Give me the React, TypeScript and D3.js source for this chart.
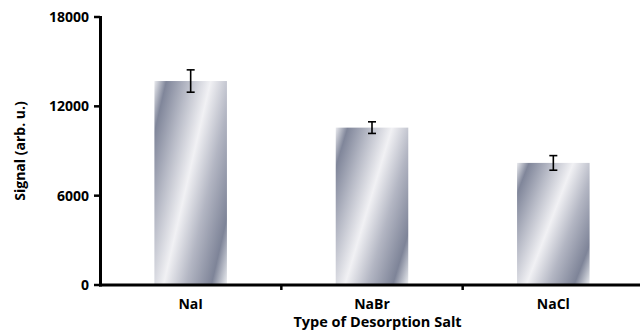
import React from "react";
import * as d3 from "d3";

const categories = ["NaI", "NaBr", "NaCl"];
const values = [13700, 10570, 8200];
const errors = [750, 390, 490];
const yTicks = [0, 6000, 12000, 18000];

const W = 640;
const H = 331;
const FONT = "'Open Sans', sans-serif";

export default function App() {
  const x = d3.scaleBand<string>().domain(categories).range([100, 644]).padding(0);
  const y = d3.scaleLinear().domain([0, 18000]).range([285, 17]);
  const bw = x.bandwidth() * 0.4;

  const a = 0.65;
  const s = (1 + a) / (1 + a * a);
  const stops: [number, string][] = [
    [0, "#e9eaee"],
    [0.1, "#80869a"],
    [0.28, "#b8bbc7"],
    [0.47, "#f1f1f4"],
    [0.66, "#b3b6c3"],
    [0.87, "#7e8498"],
    [1, "#eceef1"],
  ];

  return (
    <svg width={W} height={H} style={{ position: "absolute", left: 0, top: 0, background: "#fff" }}>
      <defs>
        <linearGradient id="chrome" x1={0} y1={0} x2={s} y2={s * a} gradientUnits="objectBoundingBox">
          {stops.map(([o, c], i) => (
            <stop key={i} offset={o} stopColor={c} />
          ))}
        </linearGradient>
      </defs>
      <rect width={W} height={H} fill="#fff" />
      {categories.map((c, i) => {
        const cx = (x(c) as number) + x.bandwidth() / 2;
        return (
          <g key={c}>
            <rect x={cx - bw / 2} y={y(values[i])} width={bw} height={y(0) - y(values[i])} fill="url(#chrome)" />
            <line x1={cx} x2={cx} y1={y(values[i] + errors[i])} y2={y(values[i] - errors[i])} stroke="#000" strokeWidth={1.6} />
            <line x1={cx - 4} x2={cx + 4} y1={y(values[i] + errors[i])} y2={y(values[i] + errors[i])} stroke="#000" strokeWidth={1.6} />
            <line x1={cx - 4} x2={cx + 4} y1={y(values[i] - errors[i])} y2={y(values[i] - errors[i])} stroke="#000" strokeWidth={1.6} />
          </g>
        );
      })}
      {/* y axis */}
      <line x1={100.5} x2={100.5} y1={y(18000) - 1} y2={y(0) + 1.5} stroke="#000" strokeWidth={3} />
      {yTicks.map((t) => (
        <g key={t}>
          <line x1={94} x2={100} y1={y(t)} y2={y(t)} stroke="#000" strokeWidth={2.5} />
          <text x={89} y={y(t)} dy="0.36em" textAnchor="end" fontFamily={FONT} fontWeight={700} fontSize={14} fill="#000">
            {t}
          </text>
        </g>
      ))}
      {/* x axis */}
      <line x1={99} x2={644} y1={y(0)} y2={y(0)} stroke="#000" strokeWidth={3} />
      {categories.slice(1).map((c) => (
        <line key={c} x1={x(c) as number} x2={x(c) as number} y1={y(0)} y2={y(0) + 5} stroke="#000" strokeWidth={2.5} />
      ))}
      {categories.map((c) => (
        <text key={c} x={(x(c) as number) + x.bandwidth() / 2} y={309} textAnchor="middle" fontFamily={FONT} fontWeight={700} fontSize={14} fill="#000">
          {c}
        </text>
      ))}
      <text x={377.5} y={327} textAnchor="middle" fontFamily={FONT} fontWeight={700} fontSize={14.5} fill="#000">
        Type of Desorption Salt
      </text>
      <text transform={`translate(25,151) rotate(-90)`} textAnchor="middle" fontFamily={FONT} fontWeight={700} fontSize={14} fill="#000">
        Signal (arb. u.)
      </text>
    </svg>
  );
}
